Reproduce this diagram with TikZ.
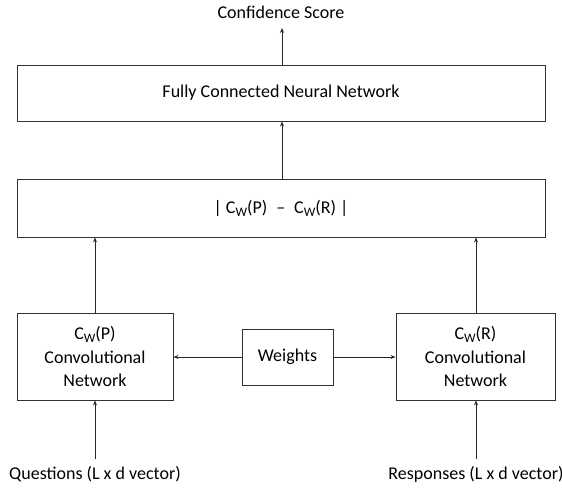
\documentclass[tikz,border=0pt]{standalone}
\usepackage{fontspec}
\setmainfont{Carlito}
\usetikzlibrary{arrows.meta}
\newcommand{\subW}{\raisebox{-0.35ex}{\fontsize{13}{13}\selectfont W}}
\begin{document}
\begin{tikzpicture}[x=1pt,y=-1pt,
  box/.style={draw=black!80,line width=0.9pt,inner sep=0pt,align=center,font=\fontsize{18}{23.5}\selectfont},
  lbl/.style={inner sep=1pt,font=\fontsize{18}{22}\selectfont},
  arr/.style={draw=black!85,line width=0.8pt,-{Stealth[length=5pt,width=4pt]}}]
\useasboundingbox (0,0) rectangle (562,488);
\node[lbl] (conf) at (281,12) {Confidence Score};
\node[box,minimum width=528pt,minimum height=56pt] (fcnn) at (281,93) {Fully Connected Neural Network};
\node[box,minimum width=528pt,minimum height=58pt] (diff) at (281,208) {| C\subW(P)\enspace–\enspace C\subW(R) |};
\node[box,minimum width=156pt,minimum height=87pt] (cl) at (95,356.5) {C\subW(P)\\Convolutional\\Network};
\node[box,minimum width=159pt,minimum height=87pt] (cr) at (475.5,356.5) {C\subW(R)\\Convolutional\\Network};
\node[box,minimum width=91pt,minimum height=56pt] (w) at (287.5,357) {Weights};
\node[lbl] (q) at (95,474) {Questions (L x d vector)};
\node[lbl] (r) at (476,474) {Responses (L x d vector)};
\coordinate (qa) at (95,459);
\coordinate (ra) at (476,459);
\coordinate (ca) at (282,28);
\draw[arr] (fcnn.north -| ca) -- (ca);
\draw[arr] (diff.north -| ca) -- (fcnn.south -| ca);
\draw[arr] (cl.north) -- (diff.south -| cl.north);
\draw[arr] (cr.north -| ra) -- (diff.south -| ra);
\draw[arr] (w.west) -- (cl.east |- w.west);
\draw[arr] (w.east) -- (cr.west |- w.east);
\draw[arr] (qa) -- (cl.south);
\draw[arr] (ra) -- (cr.south -| ra);
\end{tikzpicture}
\end{document}
